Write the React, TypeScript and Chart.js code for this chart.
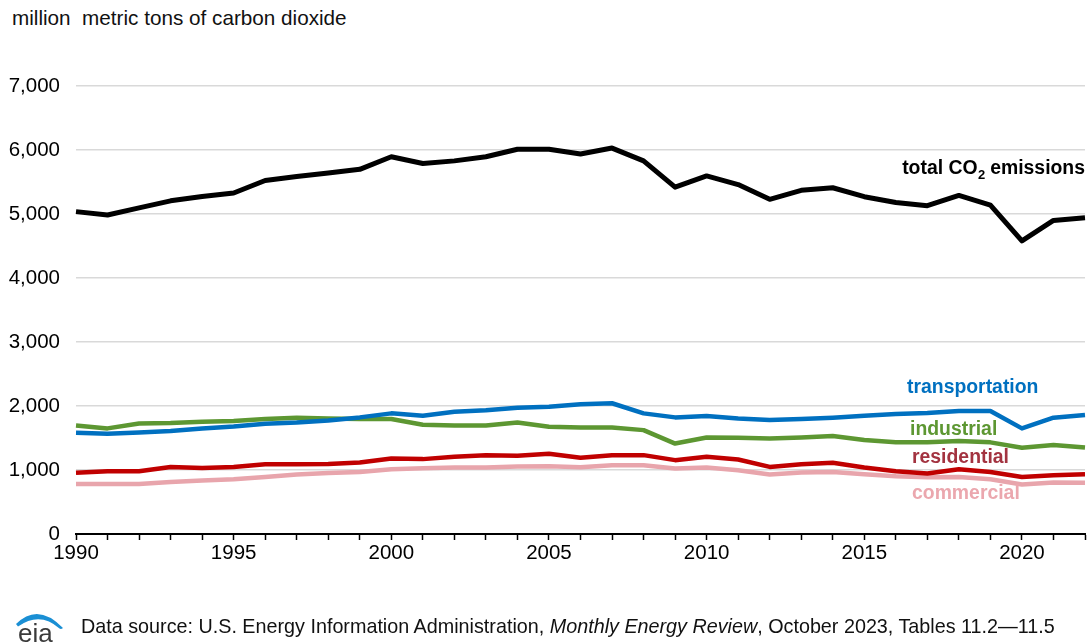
import React, { useEffect, useRef } from "react";
import { Chart, registerables } from "chart.js";

Chart.register(...registerables);

// Years on the horizontal axis
const years: string[] = [
  "1990", "1991", "1992", "1993", "1994", "1995", "1996", "1997", "1998", "1999",
  "2000", "2001", "2002", "2003", "2004", "2005", "2006", "2007", "2008", "2009",
  "2010", "2011", "2012", "2013", "2014", "2015", "2016", "2017", "2018", "2019",
  "2020", "2021", "2022",
];

// Energy-related CO2 emissions, million metric tons
const total: number[] = [
  5037, 4984, 5095, 5206, 5275, 5328, 5524, 5587, 5640, 5698,
  5894, 5789, 5830, 5894, 6011, 6011, 5937, 6030, 5830, 5420,
  5595, 5460, 5230, 5370, 5410, 5270, 5180, 5130, 5290, 5140,
  4580, 4900, 4940,
];
const transportation: number[] = [
  1581, 1566, 1587, 1608, 1650, 1680, 1722, 1743, 1775, 1822,
  1885, 1848, 1911, 1932, 1974, 1990, 2027, 2043, 1885, 1822,
  1843, 1806, 1780, 1796, 1817, 1848, 1874, 1890, 1921, 1921,
  1650, 1817, 1859,
];
const industrial: number[] = [
  1696, 1650, 1728, 1733, 1755, 1765, 1796, 1817, 1806, 1796,
  1796, 1707, 1696, 1696, 1743, 1675, 1665, 1665, 1623, 1413,
  1507, 1502, 1494, 1507, 1530, 1468, 1432, 1432, 1455, 1432,
  1347, 1389, 1352,
];
const residential: number[] = [
  958, 980, 980, 1048, 1032, 1048, 1090, 1090, 1095, 1117,
  1180, 1170, 1206, 1232, 1222, 1253, 1190, 1232, 1232, 1154,
  1206, 1164, 1048, 1090, 1112, 1039, 980, 945, 1013, 970,
  892, 918, 934,
];
const commercial: number[] = [
  782, 782, 782, 813, 835, 855, 892, 929, 955, 970,
  1013, 1028, 1039, 1039, 1055, 1060, 1044, 1075, 1075, 1023,
  1039, 995, 929, 960, 970, 934, 902, 887, 892, 855,
  772, 804, 800,
];

const yTicks: number[] = [0, 1000, 2000, 3000, 4000, 5000, 6000, 7000];

const FONT = '"Liberation Sans", Arial, sans-serif';

const COLORS = {
  total: "#000000",
  transportation: "#0070c0",
  industrial: "#5d9732",
  residential: "#c00000",
  residentialText: "#a33340",
  commercial: "#e8a5ac",
  commercialText: "#eba7ae",
};

// Draws the series names beside their lines
const seriesLabels = {
  id: "seriesLabels",
  afterDatasetsDraw(chart: any) {
    const { ctx, chartArea, scales } = chart;
    const y = scales.y;
    ctx.save();
    ctx.textBaseline = "alphabetic";

    // total CO2 emissions, right aligned, with subscript 2
    const big = `bold 19.4px ${FONT}`;
    const small = `bold 13px ${FONT}`;
    const a = "total CO";
    const b = "2";
    const c = " emissions";
    ctx.font = big;
    const wa = ctx.measureText(a).width;
    const wc = ctx.measureText(c).width;
    ctx.font = small;
    const wb = ctx.measureText(b).width;
    const right = chartArea.right;
    const baseTotal = y.getPixelForValue(5622);
    const x0 = right - (wa + wb + wc);
    ctx.fillStyle = COLORS.total;
    ctx.textAlign = "left";
    ctx.font = big;
    ctx.fillText(a, x0, baseTotal);
    ctx.font = small;
    ctx.fillText(b, x0 + wa + 0.5, baseTotal + 5);
    ctx.font = big;
    ctx.fillText(c, x0 + wa + wb, baseTotal);

    const left = chartArea.left + 834;
    const items: [string, string, number, number][] = [
      ["transportation", COLORS.transportation, 2200, -3],
      ["industrial", COLORS.industrial, 1548, 0],
      ["residential", COLORS.residentialText, 1106, 2],
      ["commercial", COLORS.commercialText, 548, 2],
    ];
    ctx.font = `bold 19.4px ${FONT}`;
    for (const [text, color, v, dx] of items) {
      ctx.fillStyle = color;
      ctx.fillText(text, left + dx, y.getPixelForValue(v));
    }
    ctx.restore();
  },
};

export default function App() {
  const canvasRef = useRef<HTMLCanvasElement | null>(null);

  useEffect(() => {
    const canvas = canvasRef.current;
    if (!canvas) return;
    const line = (label: string, data: number[], color: string, width: number) => ({
      label,
      data,
      borderColor: color,
      backgroundColor: color,
      borderWidth: width,
      pointRadius: 0,
      pointHoverRadius: 0,
      tension: 0,
      fill: false,
      borderJoinStyle: "round" as const,
      borderCapStyle: "butt" as const,
    });

    const chart = new Chart(canvas, {
      type: "line",
      data: {
        labels: years,
        datasets: [
          line("total", total, COLORS.total, 5),
          line("transportation", transportation, COLORS.transportation, 4.5),
          line("industrial", industrial, COLORS.industrial, 4.5),
          line("residential", residential, COLORS.residential, 4.5),
          line("commercial", commercial, COLORS.commercial, 4.5),
        ],
      },
      options: {
        animation: false,
        responsive: false,
        devicePixelRatio: 1,
        events: [],
        layout: { padding: { top: 86, right: 3, bottom: 0, left: 0 } },
        plugins: {
          legend: { display: false },
          tooltip: { enabled: false },
          title: { display: false },
        },
        scales: {
          x: {
            type: "category",
            offset: false,
            grid: {
              display: true,
              drawOnChartArea: false,
              drawTicks: true,
              tickLength: 6,
              tickWidth: 1.5,
              tickColor: "#000",
              color: "#000",
            },
            border: { display: true, color: "#000", width: 2 },
            ticks: {
              autoSkip: false,
              maxRotation: 0,
              minRotation: 0,
              padding: 1,
              color: "#000",
              font: { family: FONT, size: 20.5 },
              callback: (_v: any, i: number) => (Number(years[i]) % 5 === 0 ? years[i] : ""),
            },
            afterFit: (scale: any) => {
              scale.height = 108;
            },
          },
          y: {
            min: 0,
            max: 7000,
            afterBuildTicks: (scale: any) => {
              scale.ticks = yTicks.map((v) => ({ value: v }));
            },
            grid: {
              display: true,
              drawTicks: false,
              color: (ctx: any) => (ctx.tick && ctx.tick.value === 0 ? "rgba(0,0,0,0)" : "#d9d9d9"),
              lineWidth: 1.5,
            },
            border: { display: false },
            ticks: {
              padding: 16,
              color: "#000",
              font: { family: FONT, size: 20.5 },
              callback: (v: any) => Number(v).toLocaleString("en-US"),
            },
            afterFit: (scale: any) => {
              scale.width = 76;
            },
          },
        },
      },
      plugins: [seriesLabels],
    });
    return () => chart.destroy();
  }, []);

  return (
    <div style={{ position: "absolute", left: 0, top: 0, width: 1088, height: 642, background: "#fff", overflow: "hidden" }}>
      <div
        style={{
          position: "absolute",
          left: 12,
          top: 8,
          fontFamily: FONT,
          fontSize: "20.7px",
          lineHeight: "20px",
          color: "#111",
          whiteSpace: "pre",
        }}
      >
        {"million  metric tons of carbon dioxide"}
      </div>
      <canvas ref={canvasRef} width={1088} height={642} style={{ position: "absolute", left: 0, top: 0, width: 1088, height: 642 }} />
      <svg width={70} height={40} viewBox="0 0 70 40" style={{ position: "absolute", left: 0, top: 602 }}>
        <path d="M16 22 Q38 0 63 26 Q61 27.5 59.5 26.5 Q40 9 18 24.5 Z" fill="#1a8fd4" />
        <text x={18} y={39.5} fontFamily={FONT} fontSize={26} fill="#3a3a3a">eia</text>
      </svg>
      <div
        style={{
          position: "absolute",
          left: 81,
          top: 616,
          fontFamily: FONT,
          fontSize: "19.75px",
          lineHeight: "20px",
          color: "#111",
          whiteSpace: "pre",
        }}
      >
        Data source: U.S. Energy Information Administration, <i>Monthly Energy Review</i>, October 2023, Tables 11.2—11.5
      </div>
    </div>
  );
}
